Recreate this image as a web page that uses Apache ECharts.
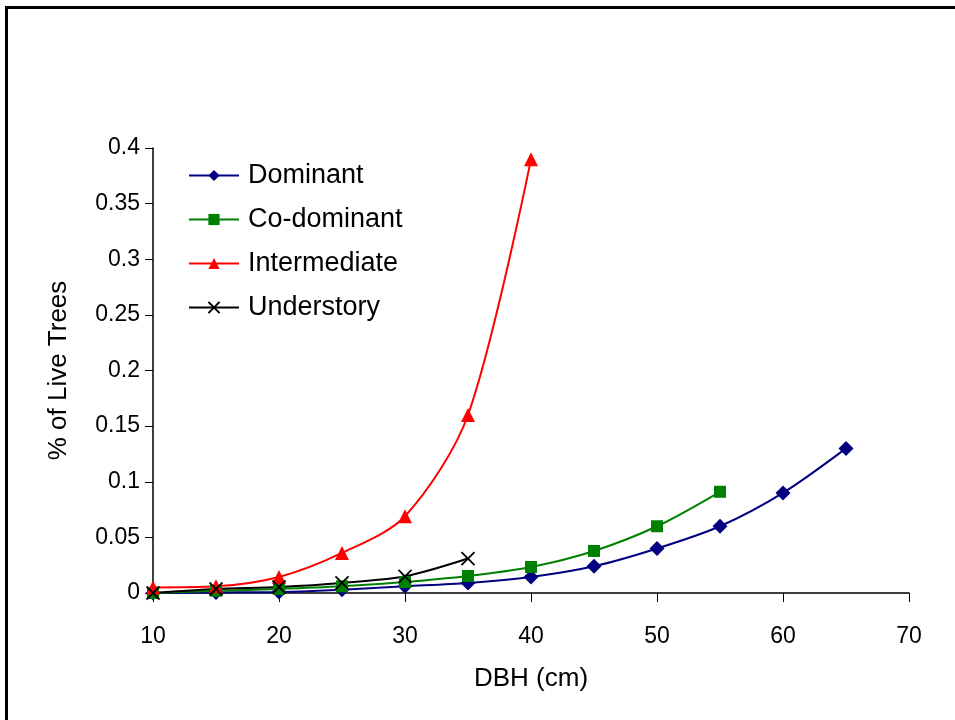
<!DOCTYPE html>
<html>
<head>
<meta charset="utf-8">
<script src="https://cdn.jsdelivr.net/npm/echarts@6/dist/echarts.min.js"></script>
<style>
  html, body { margin: 0; padding: 0; background: #fff; }
  #chart { width: 955px; height: 720px; }
</style>
</head>
<body>
<div id="chart"></div>
<script>
// DBH classes (cm)
var dbh = [10, 15, 20, 25, 30, 35, 40, 45, 50, 55, 60, 65]
// values
var dominant = [0, 0.0005, 0.001, 0.003, 0.006, 0.009, 0.0144, 0.024, 0.040, 0.060, 0.090, 0.130]
var codominant = [0, 0.002, 0.0036, 0.006, 0.0099, 0.0153, 0.0234, 0.0378, 0.060, 0.091]
var intermediate = [0.005, 0.006, 0.0144, 0.036, 0.069, 0.160, 0.390]
var understory = [0, 0.0036, 0.0054, 0.009, 0.015, 0.031]

var font = 'Liberation Sans, Arial, sans-serif'

function pairs (vals) {
  return vals.map(function (v, i) { return [dbh[i], v] })
}

var myChart = echarts.init(document.getElementById('chart'))
myChart.setOption({
  animation: false,
  backgroundColor: '#fff',
  textStyle: { fontFamily: font },
  graphic: [
    // frame: top and left edges
    { type: 'rect', shape: { x: 5, y: 6, width: 950, height: 3 }, style: { fill: '#000' } },
    { type: 'rect', shape: { x: 5, y: 6, width: 3, height: 714 }, style: { fill: '#000' } }
  ],
  legend: {
    orient: 'vertical',
    left: 183,
    top: 157,
    itemWidth: 50,
    itemHeight: 14,
    itemGap: 17,
    textStyle: { fontSize: 27, color: '#000', fontFamily: font, padding: [0, 0, 0, 4] },
    data: ['Dominant', 'Co-dominant', 'Intermediate', 'Understory']
  },
  grid: {
    left: 153,
    right: 46,
    top: 148,
    bottom: 127
  },
  xAxis: {
    type: 'value',
    min: 10,
    max: 70,
    interval: 10,
    name: 'DBH (cm)',
    nameLocation: 'middle',
    nameGap: 73,
    nameTextStyle: { fontSize: 26, color: '#000', fontFamily: font },
    axisLine: { lineStyle: { color: '#000', width: 1.5 } },
    axisTick: { show: true, length: 9, lineStyle: { color: '#000' } },
    axisLabel: { fontSize: 23, color: '#000', margin: 32, fontFamily: font },
    splitLine: { show: false }
  },
  yAxis: {
    type: 'value',
    min: 0,
    max: 0.4,
    interval: 0.05,
    name: '% of Live Trees',
    nameLocation: 'middle',
    nameGap: 81,
    nameTextStyle: { fontSize: 26, color: '#000', fontFamily: font },
    axisLine: { show: true, lineStyle: { color: '#000', width: 1.5 } },
    axisTick: { show: true, length: 8, lineStyle: { color: '#000' } },
    axisLabel: { fontSize: 23, color: '#000', margin: 13, fontFamily: font },
    splitLine: { show: false }
  },
  series: [
    {
      name: 'Dominant',
      type: 'line',
      smooth: 0.3,
      data: pairs(dominant),
      symbol: 'diamond',
      symbolSize: 15,
      lineStyle: { color: '#000080', width: 2 },
      itemStyle: { color: '#000080' }
    },
    {
      name: 'Co-dominant',
      type: 'line',
      smooth: 0.3,
      data: pairs(codominant),
      symbol: 'rect',
      symbolSize: 12,
      lineStyle: { color: '#008000', width: 2 },
      itemStyle: { color: '#008000' }
    },
    {
      name: 'Intermediate',
      type: 'line',
      smooth: 0.3,
      data: pairs(intermediate),
      symbol: 'triangle',
      symbolSize: 14,
      lineStyle: { color: '#FF0000', width: 2 },
      itemStyle: { color: '#FF0000' }
    },
    {
      name: 'Understory',
      type: 'line',
      smooth: 0.3,
      data: pairs(understory),
      symbol: 'path://M0,0L10,10M10,0L0,10',
      symbolSize: 13,
      lineStyle: { color: '#000', width: 2 },
      itemStyle: { color: 'none', borderColor: '#000', borderWidth: 1.8 }
    }
  ]
})
</script>
</body>
</html>
